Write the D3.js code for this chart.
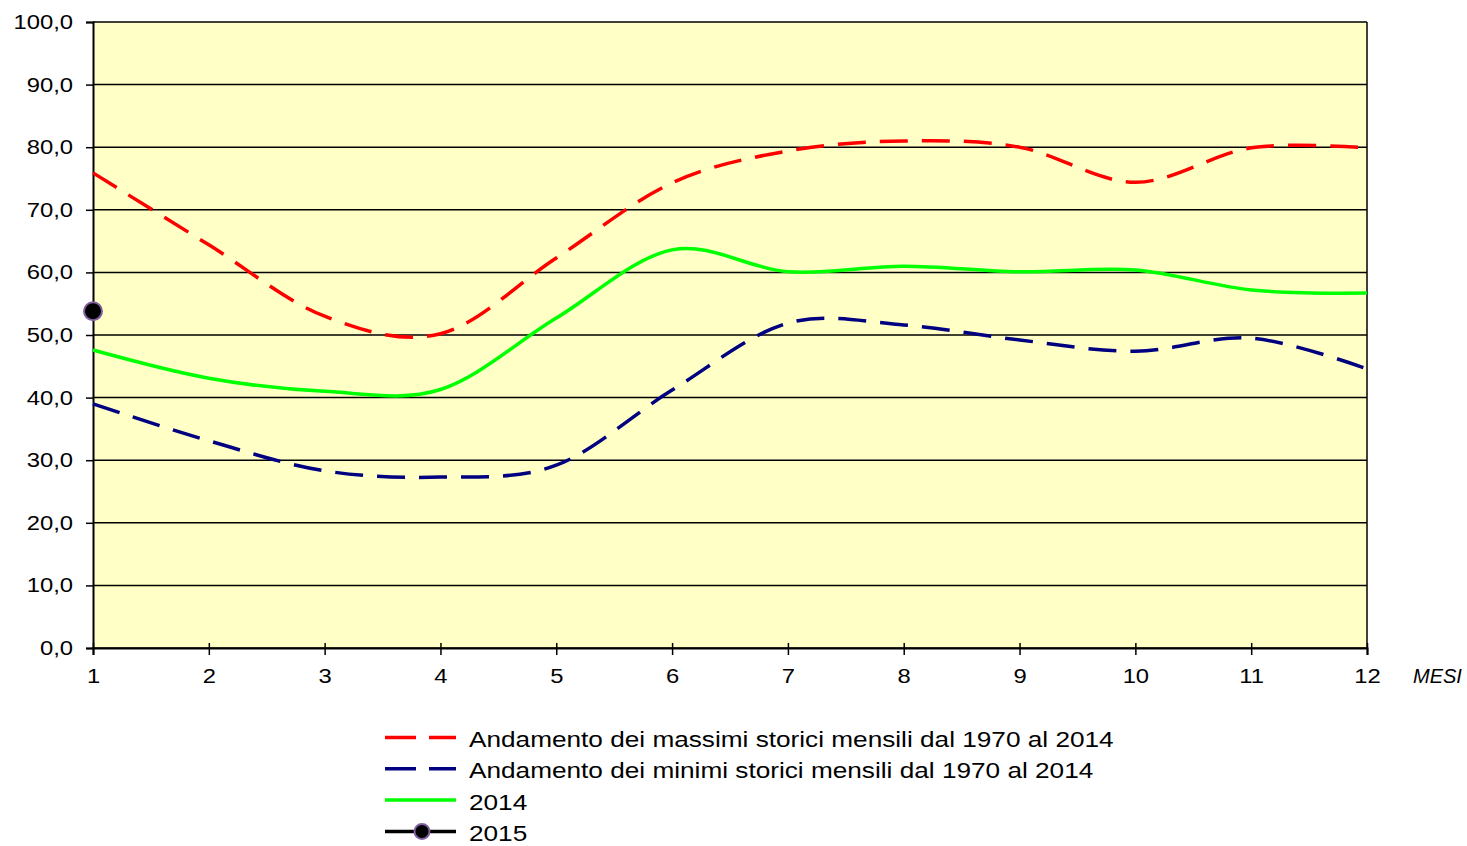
<!DOCTYPE html>
<html>
<head>
<meta charset="utf-8">
<script src="https://cdn.jsdelivr.net/npm/d3@7"></script>
<style>
  body { margin: 0; background: #fff; }
  svg text { font-family: "Liberation Sans", Arial, sans-serif; fill: #000; }
</style>
</head>
<body>
<svg id="chart" width="1467" height="846"></svg>
<script>
const months = [1, 2, 3, 4, 5, 6, 7, 8, 9, 10, 11, 12];
const maxStorici = [75.9, 64.4, 53.0, 50.2, 62.3, 74.3, 79.4, 81.0, 80.0, 74.4, 79.9, 79.9];
const minStorici = [39.0, 33.1, 28.3, 27.3, 29.2, 41.2, 51.9, 51.6, 49.2, 47.4, 49.5, 44.6];
const anno2014 = [47.6, 43.1, 41.0, 41.3, 52.7, 63.6, 60.1, 61.0, 60.1, 60.4, 57.2, 56.7];
const anno2015 = [53.8];
const yTicks = [0, 10, 20, 30, 40, 50, 60, 70, 80, 90, 100];
const legendLabels = [
  "Andamento dei massimi storici mensili dal 1970 al 2014",
  "Andamento dei minimi storici mensili dal 1970 al 2014",
  "2014",
  "2015"
];

const svg = d3.select("#chart");
const plotLeft = 93, plotRight = 1367, plotTop = 22, plotBottom = 648;
const stretch = 1.19; // the reference text is drawn a bit wider than Arial

const x = d3.scaleLinear().domain([1, 12]).range([plotLeft, plotRight]);
const y = d3.scaleLinear().domain([0, 100]).range([plotBottom, plotTop]);
const fmt = (d) => d.toFixed(1).replace(".", ",");

function widen(sel, k = stretch) {
  sel.each(function () {
    const w = this.getComputedTextLength();
    d3.select(this)
      .attr("textLength", w * k)
      .attr("lengthAdjust", "spacingAndGlyphs");
  });
}

// plot background
svg.append("rect")
  .attr("x", plotLeft).attr("y", plotTop)
  .attr("width", plotRight - plotLeft).attr("height", plotBottom - plotTop)
  .attr("fill", "#ffffc6");

// gridlines
svg.append("g")
  .selectAll("line")
  .data(yTicks)
  .join("line")
  .attr("x1", plotLeft).attr("x2", plotRight)
  .attr("y1", (d) => y(d)).attr("y2", (d) => y(d))
  .attr("stroke", "#000").attr("stroke-width", 1.5);

// right border
svg.append("line")
  .attr("x1", plotRight).attr("x2", plotRight)
  .attr("y1", plotTop).attr("y2", plotBottom)
  .attr("stroke", "#000").attr("stroke-width", 1.5);

// y axis
const yAxis = svg.append("g")
  .attr("transform", `translate(${plotLeft},0)`)
  .call(d3.axisLeft(y).tickValues(yTicks).tickFormat(fmt).tickSize(7).tickPadding(13));
yAxis.select(".domain").attr("stroke-width", 2);
yAxis.selectAll(".tick line").attr("stroke-width", 1.5);
yAxis.selectAll("text")
  .attr("font-family", null)
  .style("font-size", "20px");
widen(yAxis.selectAll("text"));

// x axis
const xAxis = svg.append("g")
  .attr("transform", `translate(0,${plotBottom})`)
  .call(d3.axisBottom(x).tickValues(months).tickFormat(d3.format("d")).tickSize(7).tickPadding(14));
xAxis.select(".domain").attr("stroke-width", 2);
xAxis.selectAll(".tick line").attr("y1", -5).attr("stroke-width", 1.5);
xAxis.selectAll("text")
  .attr("font-family", null)
  .style("font-size", "20px");
widen(xAxis.selectAll("text"));

svg.append("text")
  .attr("x", 1413).attr("y", 683)
  .style("font-size", "20px")
  .style("font-style", "italic")
  .text("MESI");

// series
const line = d3.line()
  .x((d, i) => x(months[i]))
  .y((d) => y(d))
  .curve(d3.curveCatmullRom.alpha(0));

const series = [
  { values: maxStorici, color: "#ff0000", dash: "28,14" },
  { values: minStorici, color: "#000080", dash: "28,14" },
  { values: anno2014, color: "#00ff00", dash: null }
];

svg.append("g")
  .selectAll("path")
  .data(series)
  .join("path")
  .attr("d", (d) => line(d.values))
  .attr("fill", "none")
  .attr("stroke", (d) => d.color)
  .attr("stroke-width", 3.5)
  .attr("stroke-dasharray", (d) => d.dash);

svg.append("g")
  .selectAll("circle")
  .data(anno2015)
  .join("circle")
  .attr("cx", (d, i) => x(months[i]))
  .attr("cy", (d) => y(d))
  .attr("r", 9)
  .attr("fill", "#000")
  .attr("stroke", "#8060a0")
  .attr("stroke-width", 2);

// legend
const legend = svg.append("g").attr("transform", "translate(385,737.5)");
const legendItems = [
  { color: "#ff0000", dash: "31,13" },
  { color: "#000080", dash: "31,13" },
  { color: "#00ff00", dash: null },
  { color: "#000", dash: null, marker: true }
];
legendItems.forEach((item, i) => {
  const g = legend.append("g").attr("transform", `translate(0,${i * 31.3})`);
  g.append("line")
    .attr("x1", 0).attr("x2", 71)
    .attr("y1", 0).attr("y2", 0)
    .attr("stroke", item.color)
    .attr("stroke-width", 3.5)
    .attr("stroke-dasharray", item.dash);
  if (item.marker) {
    g.append("circle")
      .attr("cx", 37).attr("cy", 0).attr("r", 7.5)
      .attr("fill", "#000").attr("stroke", "#8060a0").attr("stroke-width", 2);
  }
  const t = g.append("text")
    .attr("x", 84).attr("y", 9.5)
    .style("font-size", "22px")
    .text(legendLabels[i]);
  widen(t);
});
</script>
</body>
</html>
